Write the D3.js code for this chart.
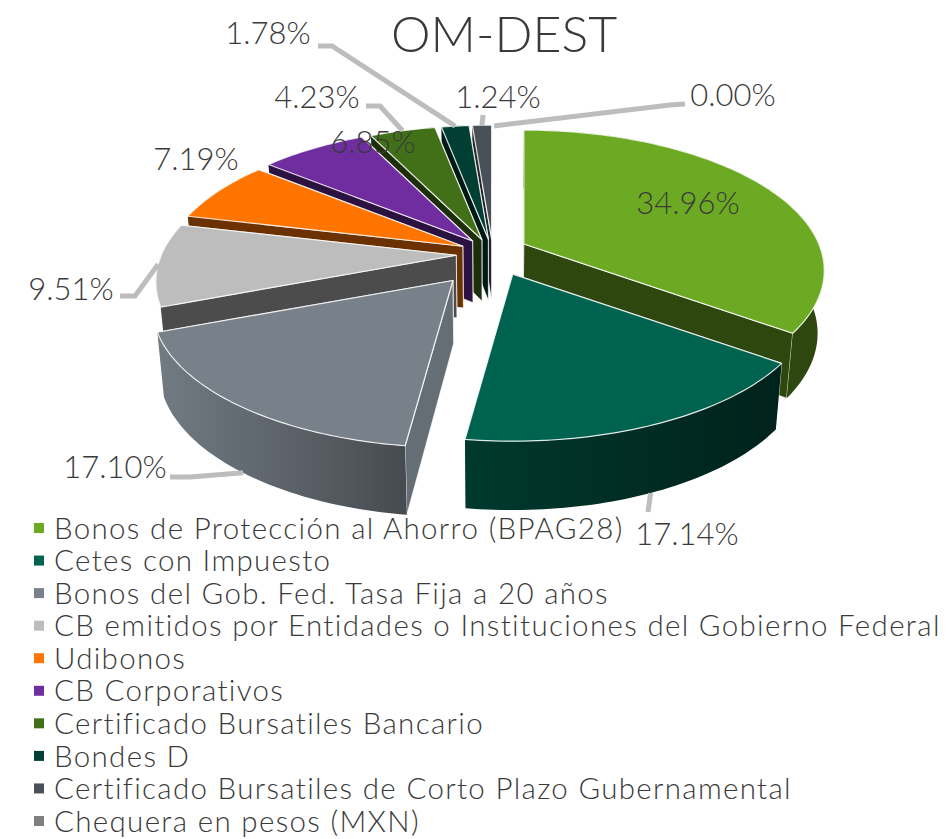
<!DOCTYPE html>
<html lang="es">
<head>
<meta charset="utf-8">
<title>OM-DEST</title>
<script src="https://cdnjs.cloudflare.com/ajax/libs/d3/7.8.5/d3.min.js"></script>
<style>
  html, body { margin: 0; background: #fff; }
  text { font-family: Lato, "Open Sans", sans-serif; fill: #3a3a3a; }
</style>
</head>
<body>
<div id="chart"></div>
<script>
// datos
var categories = ["Bonos de Protección al Ahorro (BPAG28)", "Cetes con Impuesto", "Bonos del Gob. Fed. Tasa Fija a 20 años",
  "CB emitidos por Entidades o Instituciones del Gobierno Federal", "Udibonos", "CB Corporativos",
  "Certificado Bursatiles Bancario", "Bondes D", "Certificado Bursatiles de Corto Plazo Gubernamental", "Chequera en pesos (MXN)"];
var values = [34.96, 17.14, 17.10, 9.51, 7.19, 6.85, 4.23, 1.78, 1.24, 0.00];

// estilos
var palette = ["#6CAA23", "#00634F", "#78818A", "#BDBDBD", "#FF7500", "#6F2DA0", "#427018", "#013E33", "#4A5058", "#7F7F7F"];
var wallDark = [0.58, 0.6, 0.15, 0.6, 0.58, 0.6, 0.58, 0.6, 0.55, 0.5];
var rimDark = [[0.58, 0.58], [0.42, 0.66], [0.05, 0.42], [0.6, 0.6], [0.58, 0.58], [0.6, 0.6], [0.58, 0.58], [0.6, 0.6], [0.55, 0.55], [0.5, 0.5]];

// ajuste fino de cada rebanada, etiquetas y lineas guia
var nudge = [[0, 0], [3, 1], [-7, 11], [8, 2], [7, 2], [5, 2], [3, 3], [3, 3], [3, 3], [0, 0]];
var labelPos = [[688, 203], [687, 534], [115, 467], [71, 289], [196, 159], [373, 142], [317, 97], [268, 33], [498, 97], [733, 95]];
var leaderPts = [null, [[648, 512]], [[170, 477], [190, 477]], [[120, 296], [135, 296]], null, null,
  [[366, 106], [380, 106]], [[318, 46], [332, 46]], [[483, 115]], [[685, 104], [670, 105]]];

var w = 951, h = 839;
var cx = 490, cy = 252;
var rx = 295, ry = 135.5;   // radios
var k = 0.189;              // perspectiva
var burst = 0.14;           // separacion de las rebanadas
var depth = 62, shrink = 0.98;

var svg = d3.select("#chart").append("svg").attr("width", w).attr("height", h);
var defs = svg.append("defs");

var pie = d3.pie().sort(null).value(function (d) { return d; });
var arcs = pie(values);
arcs.forEach(function (d) { d.mid = (d.startAngle + d.endAngle) / 2; });

// proyeccion del plano de la tarta a la pantalla
function proj(r, a) {
  var u = Math.sin(a), v = -Math.cos(a);
  var den = 1 - k * v;
  return [rx * r * u / den, ry * r * v / den];
}
function apex(d) {
  var p = proj(burst, d.mid), n = nudge[d.index];
  return [cx + p[0] + n[0], cy + p[1] + n[1]];
}
function rimPoint(d, a) {
  var o = apex(d), p = proj(1, a);
  return [o[0] + p[0], o[1] + p[1]];
}
// punto inferior correspondiente
function drop(p) {
  var f = (p[1] - cy) / ry;
  return [cx + shrink * (p[0] - cx), p[1] + depth * (1 + 0.08 * f)];
}

var line = d3.line();
function arcPts(d) {
  var n = Math.max(2, Math.ceil((d.endAngle - d.startAngle) / 0.02));
  return d3.range(n + 1).map(function (i) {
    return rimPoint(d, d.startAngle + (d.endAngle - d.startAngle) * i / n);
  });
}
function shade(i, t) {
  return d3.interpolateRgb(palette[i], "#000")(t);
}

var order = arcs.filter(function (d) { return d.value > 0; })
  .sort(function (a, b) { return Math.cos(b.mid) - Math.cos(a.mid); });

var slices = svg.append("g").selectAll("g").data(order).join("g");

slices.each(function (d) {
  var g = d3.select(this), i = d.index;
  var o = apex(d), pts = arcPts(d);
  var a0 = pts[0], a1 = pts[pts.length - 1];
  var gradId = "rim" + i;
  var grad = defs.append("linearGradient").attr("id", gradId);
  grad.append("stop").attr("offset", "0%").attr("stop-color", shade(i, rimDark[i][0]));
  grad.append("stop").attr("offset", "100%").attr("stop-color", shade(i, rimDark[i][1]));

  // la pared mas lejana primero
  var walls = a0[1] < a1[1] ? [a0, a1] : [a1, a0];
  walls.forEach(function (p) {
    g.append("path")
      .attr("d", line([o, p, drop(p), drop(o)]) + "Z")
      .attr("fill", shade(i, wallDark[i]))
      .attr("stroke", "#fff").attr("stroke-opacity", 0.75).attr("stroke-width", 1);
  });
  g.append("path")
    .attr("d", line(pts.concat(pts.slice().reverse().map(drop))) + "Z")
    .attr("fill", "url(#" + gradId + ")");
  g.append("path")
    .attr("d", line([o].concat(pts)) + "Z")
    .attr("fill", palette[i])
    .attr("stroke", "#fff").attr("stroke-opacity", 0.85).attr("stroke-width", 1.2)
    .attr("stroke-linejoin", "round");
});

// lineas guia
svg.append("g").selectAll("path")
  .data(arcs.filter(function (d) { return leaderPts[d.index]; }))
  .join("path")
  .attr("fill", "none").attr("stroke", "#BDBDBD").attr("stroke-width", 5)
  .attr("d", function (d) {
    var end = rimPoint(d, d.mid);
    if (d.value === 0) end = [494, 126];
    if (Math.cos(d.mid) < -0.5) end = drop(end);
    return line(leaderPts[d.index].concat([end]));
  });

// etiquetas
svg.append("g").selectAll("text").data(arcs).join("text")
  .attr("x", function (d) { return labelPos[d.index][0]; })
  .attr("y", function (d) { return labelPos[d.index][1]; })
  .attr("dy", "0.36em").attr("text-anchor", "middle")
  .attr("font-size", 31).attr("font-weight", 300)
  .text(function (d) { return d.value.toFixed(2) + "%"; });

svg.append("text").attr("x", 504).attr("y", 52).attr("text-anchor", "middle")
  .attr("font-size", 50).attr("font-weight", 300).text("OM-DEST");

// leyenda
var yLegend = d3.scalePoint().domain(categories).range([528, 821]);
var legend = svg.append("g").selectAll("g").data(categories).join("g")
  .attr("transform", function (d) { return "translate(0," + yLegend(d) + ")"; });
legend.append("rect").attr("x", 34).attr("y", -5).attr("width", 10).attr("height", 10)
  .attr("fill", function (d, i) { return palette[i]; });
legend.append("text").attr("x", 54).attr("dy", "0.36em")
  .attr("font-size", 29.5).attr("letter-spacing", 1.33).attr("font-weight", 300)
  .text(function (d) { return d; });
</script>
</body>
</html>
